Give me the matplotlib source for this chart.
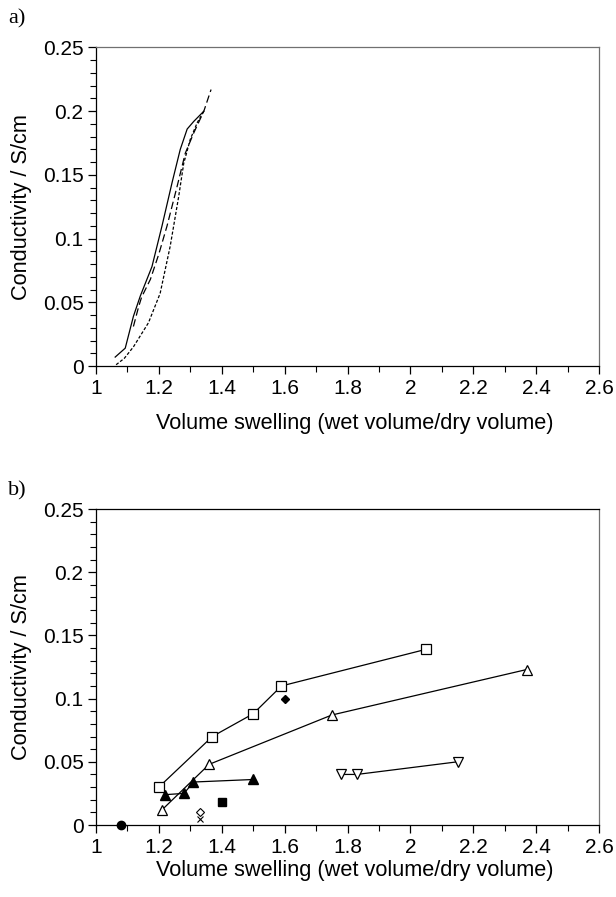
import matplotlib
matplotlib.use("Agg")
import matplotlib.pyplot as plt
from matplotlib.ticker import MultipleLocator

plt.rcParams['font.family'] = ['Liberation Sans', 'DejaVu Sans']

# panel a) - three conductivity curves
solidX = [1.061, 1.093, 1.119, 1.141, 1.178, 1.21, 1.242, 1.268, 1.29, 1.311, 1.343]
solidY = [0.007, 0.014, 0.039, 0.055, 0.078, 0.11, 0.144, 0.17, 0.186, 0.192, 0.200]
longDashX = [1.119, 1.135, 1.145, 1.173, 1.2, 1.226, 1.258, 1.284, 1.311, 1.343, 1.366]
longDashY = [0.031, 0.046, 0.054, 0.068, 0.088, 0.11, 0.141, 0.167, 0.183, 0.200, 0.217]
shortDashX = [1.064, 1.09, 1.119, 1.167, 1.204, 1.236, 1.263, 1.279, 1.30, 1.322, 1.343]
shortDashY = [0.001, 0.006, 0.015, 0.034, 0.057, 0.094, 0.133, 0.159, 0.178, 0.191, 0.200]

# panel b) - measured points
openSqX = [1.20, 1.37, 1.50, 1.59, 2.05]
openSqY = [0.030, 0.070, 0.088, 0.110, 0.139]
openTriX = [1.21, 1.36, 1.75, 2.37]
openTriY = [0.012, 0.048, 0.087, 0.123]
fillTriX = [1.22, 1.28, 1.31, 1.50]
fillTriY = [0.024, 0.025, 0.034, 0.036]
downTriX = [1.78, 1.83, 2.15]
downTriY = [0.040, 0.040, 0.050]
circleX, circleY = [1.08], [0.0]
fillSqX, fillSqY = [1.40], [0.018]
fillDiaX, fillDiaY = [1.60], [0.100]
openDiaX, openDiaY = [1.33], [0.010]
crossX, crossY = [1.33], [0.005]

fig = plt.figure(figsize=(6.16, 8.97), dpi=100)
axA = fig.add_axes([96/616, 1-366/897, 503/616, 318.5/897])
axB = fig.add_axes([96/616, 1-825/897, 503/616, 316/897])

lw = 0.9
axA.plot(solidX, solidY, color='black', lw=lw, ls='-')
axA.plot(longDashX, longDashY, color='black', lw=lw, ls=(0, (6, 3)))
axA.plot(shortDashX, shortDashY, color='black', lw=lw, ls=(0, (2.5, 1.5)))

ms = 6.5
axB.plot(openSqX, openSqY, color='black', lw=lw, marker='s', ms=ms, mfc='white', mec='black', mew=0.9)
axB.plot(openTriX, openTriY, color='black', lw=lw, marker='^', ms=ms, mfc='white', mec='black', mew=0.9)
axB.plot(fillTriX, fillTriY, color='black', lw=lw, marker='^', ms=ms, mfc='black', mec='black')
axB.plot(downTriX, downTriY, color='black', lw=lw, marker='v', ms=ms, mfc='white', mec='black', mew=0.9)
axB.plot(circleX, circleY, ls='none', marker='o', ms=6, color='black', clip_on=False, zorder=5)
axB.plot(fillSqX, fillSqY, ls='none', marker='s', ms=6, color='black')
axB.plot(fillDiaX, fillDiaY, ls='none', marker='D', ms=4.5, color='black')
axB.plot(openDiaX, openDiaY, ls='none', marker='D', ms=4.5, mfc='white', mec='black', mew=0.8)
axB.plot(crossX, crossY, ls='none', marker='x', ms=5, color='black', mew=0.8)

for ax in (axA, axB):
    ax.set_xlim(1, 2.6)
    ax.set_ylim(0, 0.25)
    ax.xaxis.set_minor_locator(MultipleLocator(0.1))
    ax.yaxis.set_minor_locator(MultipleLocator(0.01))
    ax.set_xticks([1, 1.2, 1.4, 1.6, 1.8, 2, 2.2, 2.4, 2.6])
    ax.set_xticklabels(['1', '1.2', '1.4', '1.6', '1.8', '2', '2.2', '2.4', '2.6'])
    ax.set_yticks([0, 0.05, 0.1, 0.15, 0.2, 0.25])
    ax.set_yticklabels(['0', '0.05', '0.1', '0.15', '0.2', '0.25'])
    ax.tick_params(which='major', direction='out', length=6, width=0.9, labelsize=15, pad=3)
    ax.tick_params(which='minor', direction='out', length=4, width=0.8)
    ax.tick_params(top=False, right=False, which='both')
    for s in ax.spines.values():
        s.set_linewidth(0.9)
    ax.set_xlabel('Volume swelling (wet volume/dry volume)', fontsize=15.7)
    ax.set_ylabel('Conductivity / S/cm', fontsize=15.7, labelpad=8)

axA.xaxis.set_label_coords(0.515, -0.148)
axB.xaxis.set_label_coords(0.515, -0.112)

axA.spines['top'].set_color('#707070')
axA.spines['right'].set_color('#707070')
axB.spines['right'].set_color('#707070')

fig.text(8/616, 1-19/897, 'a)', fontsize=16, family='Liberation Serif', va='center', ha='left')
fig.text(8/616, 1-491/897, 'b)', fontsize=16, family='Liberation Serif', va='center', ha='left')

fig.savefig('out.png', dpi=100)
